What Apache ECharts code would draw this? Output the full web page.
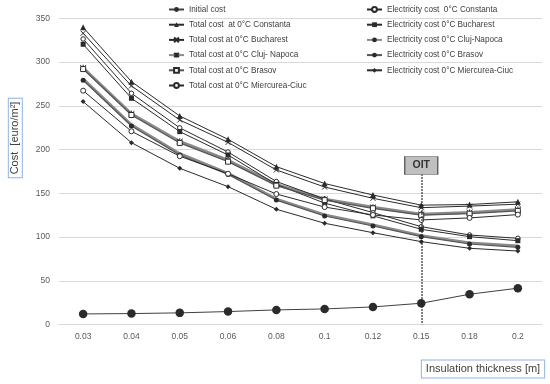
<!DOCTYPE html>
<html>
<head>
<meta charset="utf-8">
<script src="https://cdn.jsdelivr.net/npm/echarts@6/dist/echarts.min.js"></script>
<style>html,body{margin:0;padding:0;background:#fff}#c{width:550px;height:384px}</style>
</head>
<body>
<div id="c"></div>
<script>
const categories = ['0.03','0.04','0.05','0.06','0.08','0.1','0.12','0.15','0.18','0.2'];
const yTicks = [0, 50, 100, 150, 200, 250, 300, 350];

const initialCost      = [12.2, 12.6, 13.4, 14.9, 16.8, 17.9, 20.2, 24.4, 34.7, 41.6];
const elecConstanta    = [326.4, 264.3, 224.8, 197.2, 163.5, 143.5, 128.0, 111.9, 102.4, 98.6];
const totalConstanta   = [339.7, 277.6, 238.4, 211.7, 180.5, 161.2, 148.1, 136.5, 137.2, 140.3];
const elecBucharest    = [320.3, 258.6, 220.5, 193.8, 160.2, 138.8, 124.3, 108.9, 100.5, 95.9];
const totalBucharest   = [332.9, 272.7, 233.8, 208.2, 176.7, 157.2, 144.3, 133.6, 135.4, 137.6];
const elecCluj         = [281.0, 228.5, 195.5, 173.0, 143.5, 125.5, 114.0, 101.8, 93.5, 90.0];
const totalCluj        = [293.5, 241.0, 209.5, 188.0, 160.5, 143.5, 134.2, 126.2, 128.2, 131.5];
const elecBrasov       = [279.2, 227.0, 193.8, 171.5, 142.3, 124.1, 112.7, 100.5, 92.1, 88.3];
const totalBrasov      = [292.0, 239.5, 207.6, 186.2, 158.8, 142.2, 132.9, 125.0, 126.8, 129.9];
const elecMiercurea    = [254.8, 207.9, 178.6, 157.6, 131.8, 115.8, 105.0, 94.8, 87.2, 84.1];
const totalMiercurea   = [267.3, 220.9, 192.4, 172.4, 149.2, 134.3, 125.3, 119.6, 121.9, 125.7];

const oitCategory = '0.15';
const oitLineTop = 171.8;
const oitBoxValue = 181.8;

const names = {
  init: 'Initial cost',
  ec: 'Electricity cost  0°C Constanta',
  tc: 'Total cost  at 0°C Constanta',
  eb: 'Electricity cost 0°C Bucharest',
  tb: 'Total cost at 0°C Bucharest',
  ej: 'Electricity cost 0°C Cluj-Napoca',
  tj: 'Total cost at 0°C Cluj- Napoca',
  ebr: 'Electricity cost 0°C Brasov',
  tbr: 'Total cost at 0°C Brasov',
  em: 'Electricity cost 0°C Miercurea-Ciuc',
  tm: 'Total cost at 0°C Miercurea-Ciuc'
};

const XSYM = 'path://M0,0L10,10M10,0L0,10';
const ASYM = 'path://M0,0L10,10M10,0L0,10M5,-1L5,11';
const DARK = '#2b2b2b';

function mk(name, data, symbol, size, open, lineColor, lineWidth, extra) {
  const s = {
    name: name, type: 'line', data: data,
    symbol: symbol, symbolSize: size,
    lineStyle: { color: lineColor, width: lineWidth },
    itemStyle: open === 'stroke'
      ? { color: 'rgba(0,0,0,0)', borderColor: DARK, borderWidth: 1 }
      : open ? { color: '#fff', borderColor: DARK, borderWidth: 1 }
             : { color: DARK, borderColor: DARK, borderWidth: 0 },
    emphasis: { disabled: true },
    animation: false
  };
  return Object.assign(s, extra || {});
}

const series = [
  mk(names.ej, elecCluj, 'none', 0, false, '#8a8a8a', 2.6),
  mk(names.tj, totalCluj, ASYM, 6, 'stroke', '#8a8a8a', 2.6),
  mk(names.init, initialCost, 'circle', 8.5, false, '#404040', 1, {
    markLine: {
      silent: true, symbol: 'none', animation: false,
      lineStyle: { type: 'dotted', color: '#222', width: 1.5 },
      label: { show: false },
      data: [[{ coord: [oitCategory, oitLineTop] }, { coord: [oitCategory, 0] }]]
    },
    markPoint: {
      silent: true, animation: false,
      data: [{
        coord: [oitCategory, oitBoxValue], symbol: 'rect', symbolSize: [33, 18],
        itemStyle: { color: '#bfbfbf', borderColor: '#595959', borderWidth: 1 },
        label: { show: true, position: 'inside', formatter: 'OIT', color: '#333',
                 fontWeight: 'bold', fontSize: 10.5, fontFamily: 'Liberation Sans' }
      }]
    }
  }),
  mk(names.ec, elecConstanta, 'circle', 4.5, true, DARK, 1),
  mk(names.tc, totalConstanta, 'triangle', 6, false, DARK, 1),
  mk(names.eb, elecBucharest, 'rect', 5, false, DARK, 1),
  mk(names.tb, totalBucharest, XSYM, 5, 'stroke', DARK, 1),
  mk(names.ebr, elecBrasov, 'circle', 5, false, '#555', 1.2),
  mk(names.tbr, totalBrasov, 'rect', 5, true, '#555', 1.2),
  mk(names.em, elecMiercurea, 'diamond', 5, false, DARK, 1),
  mk(names.tm, totalMiercurea, 'circle', 5, true, DARK, 1)
];

const legendText = { color: '#404040', fontSize: 8.2, fontFamily: 'Liberation Sans' };
const legendCommon = {
  orient: 'vertical', itemWidth: 15, itemHeight: 6, itemGap: 7.2,
  textStyle: legendText, selectedMode: false, padding: 0
};

const chart = echarts.init(document.getElementById('c'), null, { renderer: 'canvas' });
chart.setOption({
  animation: false,
  backgroundColor: '#fff',
  grid: { left: 59, right: 8, top: 18.3, bottom: 59.4, outerBoundsMode: 'none', containLabel: false },
  legend: [
    Object.assign({ left: 168, top: 5.5,
      data: [names.init, names.tc, names.tb, names.tj, names.tbr, names.tm] }, legendCommon),
    Object.assign({ left: 366, top: 5.5,
      data: [names.ec, names.eb, names.ej, names.ebr, names.em] }, legendCommon)
  ],
  xAxis: {
    type: 'category', data: categories, boundaryGap: true,
    axisLine: { lineStyle: { color: '#d9d9d9', width: 1 } },
    axisTick: { show: false },
    axisLabel: { color: '#595959', fontSize: 8.5, fontFamily: 'Liberation Sans', margin: 8 },
    splitLine: { show: false }
  },
  yAxis: {
    type: 'value', min: yTicks[0], max: yTicks[yTicks.length - 1], interval: yTicks[1] - yTicks[0],
    axisLine: { show: false }, axisTick: { show: false },
    axisLabel: { color: '#595959', fontSize: 8.5, fontFamily: 'Liberation Sans', margin: 9 },
    splitLine: { lineStyle: { color: '#d9d9d9', width: 1 } }
  },
  graphic: [
    { type: 'text', x: 15.3, y: 138, rotation: Math.PI / 2, silent: true,
      style: { text: 'Cost  [euro/m²]', fontSize: 11, fontFamily: 'Liberation Sans', fill: '#404040',
               align: 'center', verticalAlign: 'middle', borderColor: '#8db3e2', borderWidth: 1,
               padding: [1, 3, 1, 3], backgroundColor: '#fff' } },
    { type: 'text', x: 483, y: 369, silent: true,
      style: { text: 'Insulation thickness [m]', fontSize: 11, fontFamily: 'Liberation Sans', fill: '#404040',
               align: 'center', verticalAlign: 'middle', borderColor: '#8db3e2', borderWidth: 1,
               padding: [3, 4, 3, 4], backgroundColor: '#fff' } }
  ],
  series: series
});
</script>
</body>
</html>
